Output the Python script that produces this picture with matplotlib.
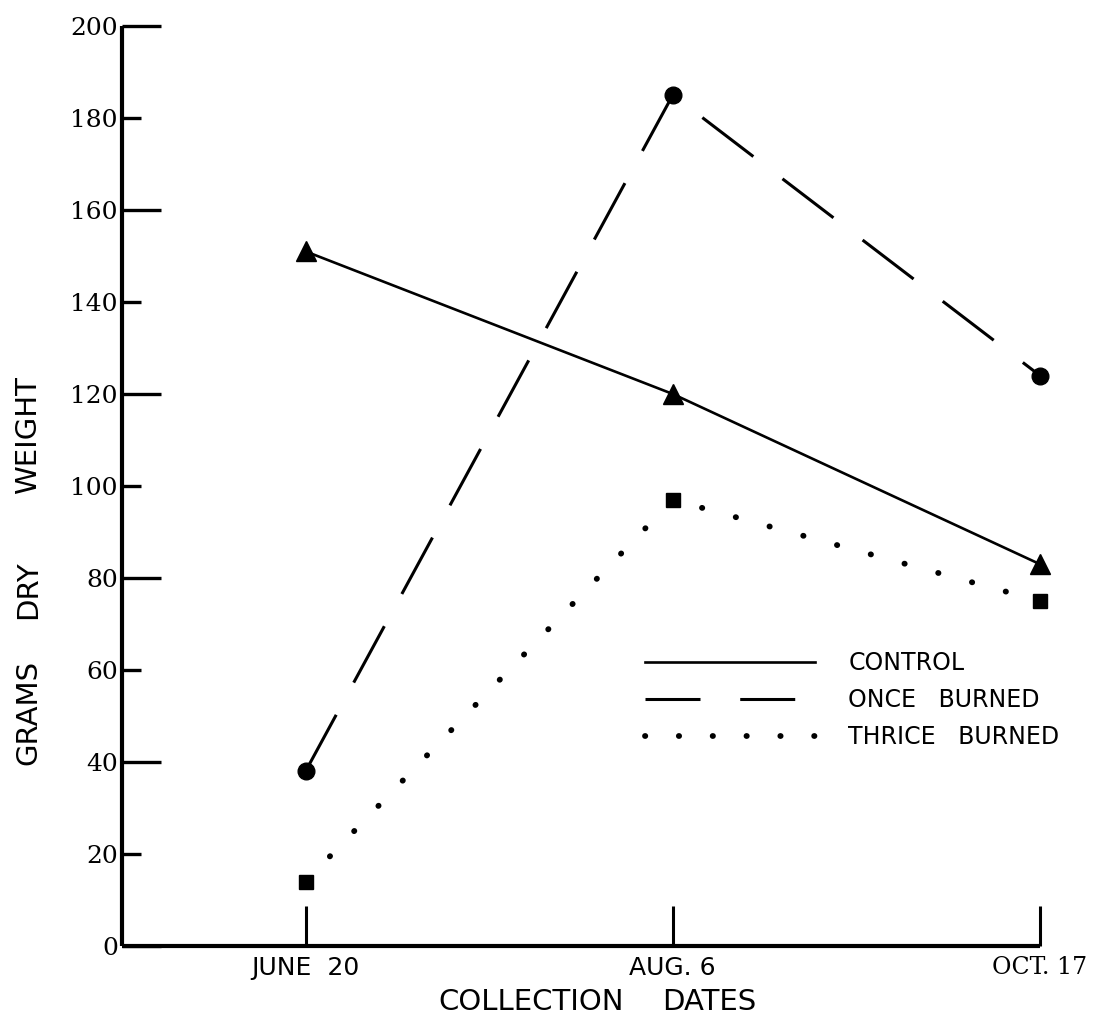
import matplotlib
matplotlib.use("Agg")
import matplotlib.pyplot as plt
from matplotlib.lines import Line2D
import numpy as np

# collection dates and dry weight (grams)
dates = ["JUNE  20", "AUG. 6", "OCT. 17"]
control = [151, 120, 83]
once_burned = [38, 185, 124]
thrice_burned = [14, 97, 75]

x = np.arange(len(dates))

W, H = 1102, 1028
fig = plt.figure(figsize=(W / 100, H / 100), dpi=100)
ax = fig.add_axes([122 / W, 1 - 946 / H, 918 / W, 920 / H])

dash = (0, (21, 12))
dots = (0, (0.05, 5.95))

ax.plot(x, control, color="black", lw=1.9, marker="^", ms=15,
        clip_on=False, zorder=3)
ax.plot(x, once_burned, color="black", lw=2.2, linestyle=dash,
        marker="o", ms=12, clip_on=False, zorder=3)
ax.plot(x, thrice_burned, color="black", lw=4.2, linestyle=dots,
        dash_capstyle="round", marker="s", ms=10, clip_on=False, zorder=3)

ax.set_xlim(-0.5, 2.0)
ax.set_ylim(0, 200)

for side in ("top", "right"):
    ax.spines[side].set_visible(False)
for side in ("left", "bottom"):
    ax.spines[side].set_linewidth(3.0)
    ax.spines[side].set_capstyle("butt")

# y ticks point inward, long every 40 and short in between
ax.set_yticks([0, 40, 80, 120, 160, 200])
ax.set_yticks([20, 60, 100, 140, 180], labels=["20", "60", "100", "140", "180"],
              minor=True)
ax.tick_params(axis="y", which="major", direction="in", length=28, width=2.4,
               pad=3, labelsize=18)
ax.tick_params(axis="y", which="minor", direction="in", length=14, width=2.4,
               pad=3, labelsize=18)
for lab in ax.get_yticklabels(minor=False) + ax.get_yticklabels(minor=True):
    lab.set_family("DejaVu Serif")

ax.set_xticks(x, labels=dates)
ax.tick_params(axis="x", direction="in", length=29, width=2.2, pad=7,
               labelsize=18)
xlabs = ax.get_xticklabels()
for lab in xlabs[:2]:
    lab.set_family("DejaVu Sans")
xlabs[2].set_family("DejaVu Serif")
xlabs[2].set_fontsize(17)

# axis titles, hand-spaced words
fig.text(531 / W, 1 - 1002 / H, "COLLECTION", ha="center", va="center",
         fontsize=21, family="DejaVu Sans")
fig.text(662 / W, 1 - 1002 / H, "DATES", ha="left", va="center",
         fontsize=21, family="DejaVu Sans")
for word, yc in (("WEIGHT", 435), ("DRY", 590), ("GRAMS", 712)):
    fig.text(28 / W, 1 - yc / H, word, ha="center", va="center",
             rotation=90, fontsize=21, family="DejaVu Sans")

handles = [
    Line2D([], [], color="black", lw=1.9),
    Line2D([], [], color="black", lw=2.2, linestyle=(0, (18, 13))),
    Line2D([], [], color="black", lw=4.2, linestyle=(0, (0.05, 5.75)),
           dash_capstyle="round"),
]
ax.legend(handles, ["CONTROL", "ONCE   BURNED", "THRICE   BURNED"],
          loc="upper left", bbox_to_anchor=(0.57, 0.3207), frameon=False,
          borderpad=0, borderaxespad=0, handlelength=7.2, handletextpad=1.4,
          labelspacing=0.55, prop={"family": "DejaVu Sans", "size": 17})

fig.savefig("out.png", dpi=100)
